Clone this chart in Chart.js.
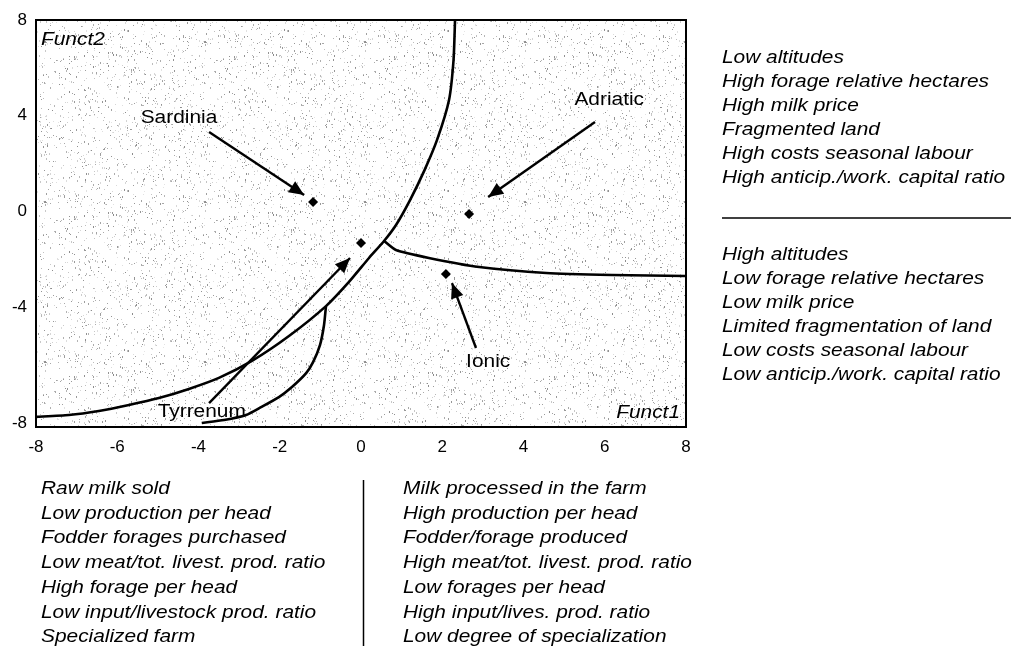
<!DOCTYPE html>
<html><head><meta charset="utf-8">
<script src="https://cdn.jsdelivr.net/npm/chart.js@4.4.1/dist/chart.umd.min.js"></script>
<style>html,body{margin:0;padding:0;background:#fff;overflow:hidden}#wrap{position:relative;width:1011px;height:646px}</style>
</head><body><div id="wrap"><canvas id="c" width="1011" height="646"></canvas></div>
<script>
// ---- data ----
const xTickValues = [-8, -6, -4, -2, 0, 2, 4, 6, 8];
const yTickValues = [8, 4, 0, -4, -8.85];
const yTickLabels = ['8', '4', '0', '-4', '-8'];

const groupNames = ['Sardinia', 'Tyrrenum', 'Adriatic', 'Ionic'];
const centroidX = [-1.18, 0.0, 2.66, 2.09];
const centroidY = [0.40, -1.31, -0.10, -2.61];

const arrowStartX = [-3.74, -3.74, 5.76, 2.83];
const arrowStartY = [3.32, -8.0, 3.74, -5.70];
const arrowEndX = [-1.40, -0.27, 3.13, 2.24];
const arrowEndY = [0.69, -1.94, 0.61, -2.99];

const labelX = [-4.48, -3.92, 6.11, 3.13];
const labelY = [3.91, -8.37, 4.66, -6.29];

const mainBoundaryX = [2.315, 2.278, 2.167, 1.872, 1.564, 1.207, 0.862, 0.567, 0.197, -0.296, -0.862, -1.773, -2.685, -3.498, -4.236, -4.975, -5.714, -6.453, -7.192, -8.03];
const mainBoundaryY = [8.00, 6.33, 4.66, 2.99, 1.73, 0.48, -0.56, -1.23, -1.94, -2.94, -3.95, -5.20, -6.24, -6.95, -7.41, -7.79, -8.08, -8.33, -8.50, -8.58];
const rightBoundaryX = [0.567, 0.86, 1.67, 2.91, 4.56, 6.18, 7.98];
const rightBoundaryY = [-1.23, -1.61, -1.94, -2.32, -2.57, -2.65, -2.69];
const arcX = [-0.862, -0.91, -1.01, -1.18, -1.35, -1.70, -2.02, -2.46, -2.83, -3.37, -3.92];
const arcY = [-3.95, -4.74, -5.58, -6.29, -6.75, -7.33, -7.75, -8.17, -8.50, -8.71, -8.83];

const axisTitleY = 'Funct2';
const axisTitleX = 'Funct1';

const rightTextTop = ['Low altitudes', 'High forage relative hectares', 'High milk price', 'Fragmented land', 'High costs seasonal labour', 'High anticip./work. capital ratio'];
const rightTextBottom = ['High altitudes', 'Low forage relative hectares', 'Low milk price', 'Limited fragmentation of land', 'Low costs seasonal labour', 'Low anticip./work. capital ratio'];
const bottomTextLeft = ['Raw milk sold', 'Low production per head', 'Fodder forages purchased', 'Low meat/tot. livest. prod. ratio', 'High forage per head', 'Low input/livestock prod. ratio', 'Specialized farm'];
const bottomTextRight = ['Milk processed in the farm', 'High production per head', 'Fodder/forage produced', 'High meat/tot. livest. prod. ratio', 'Low forages per head', 'High input/lives. prod. ratio', 'Low degree of specialization'];

// ---- helpers ----
const zip = (xs, ys) => xs.map((x, i) => ({x: x, y: ys[i]}));
const STRETCH = 1.16;
const FONT = '"Liberation Sans", Arial, sans-serif';
function sText(ctx, s, x, y, align, italic, size) {
  ctx.save();
  ctx.font = (italic ? 'italic ' : '') + size + 'px ' + FONT;
  ctx.textBaseline = 'middle';
  ctx.textAlign = align;
  ctx.fillStyle = '#000';
  ctx.translate(x, y);
  ctx.scale(STRETCH, 1);
  ctx.fillText(s, 0, 0);
  ctx.restore();
}

// stipple texture (decorative only)
function makePattern(ctx) {
  const t = document.createElement('canvas');
  t.width = 160; t.height = 160;
  const c = t.getContext('2d');
  c.fillStyle = '#ffffff';
  c.fillRect(0, 0, 160, 160);
  let s = 12345;
  const rnd = () => { s = (s * 1103515245 + 12345) % 2147483648; return s / 2147483648; };
  for (let i = 0; i < 1100; i++) {
    const x = Math.floor(rnd() * 160), y = Math.floor(rnd() * 160);
    const g = Math.floor(140 + rnd() * 90);
    c.fillStyle = 'rgb(' + g + ',' + g + ',' + g + ')';
    c.fillRect(x, y, 1, rnd() < 0.3 ? 2 : 1);
  }
  return ctx.createPattern(t, 'repeat');
}

const decor = {
  id: 'decor',
  beforeDatasetsDraw(chart) {
    const {ctx, chartArea: a} = chart;
    ctx.save();
    ctx.fillStyle = makePattern(ctx);
    ctx.fillRect(a.left, a.top, a.right - a.left, a.bottom - a.top);
    ctx.restore();
  },
  afterDatasetsDraw(chart) {
    const {ctx, chartArea: a, scales: {x, y}} = chart;
    ctx.save();
    for (let i = 0; i < arrowEndX.length; i++) {
      const x0 = x.getPixelForValue(arrowStartX[i]), y0 = y.getPixelForValue(arrowStartY[i]);
      const x1 = x.getPixelForValue(arrowEndX[i]), y1 = y.getPixelForValue(arrowEndY[i]);
      const ang = Math.atan2(y1 - y0, x1 - x0);
      const L = 15, W = 6.5;
      ctx.beginPath();
      ctx.moveTo(x1, y1);
      ctx.lineTo(x1 - L * Math.cos(ang) + W * Math.sin(ang), y1 - L * Math.sin(ang) - W * Math.cos(ang));
      ctx.lineTo(x1 - L * Math.cos(ang) - W * Math.sin(ang), y1 - L * Math.sin(ang) + W * Math.cos(ang));
      ctx.closePath();
      ctx.fillStyle = '#000';
      ctx.fill();
    }
    for (let i = 0; i < groupNames.length; i++) {
      sText(ctx, groupNames[i], x.getPixelForValue(labelX[i]), y.getPixelForValue(labelY[i]), 'center', false, 18);
    }
    sText(ctx, axisTitleY, a.left + 5, a.top + 20, 'left', true, 18);
    sText(ctx, axisTitleX, a.right - 6, a.bottom - 14, 'right', true, 18);
    ctx.strokeStyle = '#000';
    ctx.lineWidth = 2;
    ctx.strokeRect(a.left, a.top, a.right - a.left, a.bottom - a.top);
    ctx.restore();
  },
  afterDraw(chart) {
    const {ctx} = chart;
    ctx.save();
    const rx = 722, lh = 23.9;
    rightTextTop.forEach((s, i) => sText(ctx, s, rx, 58 + i * lh, 'left', true, 18));
    rightTextBottom.forEach((s, i) => sText(ctx, s, rx, 255 + i * lh, 'left', true, 18));
    ctx.strokeStyle = '#000';
    ctx.lineWidth = 1.5;
    ctx.beginPath(); ctx.moveTo(722, 218); ctx.lineTo(1011, 218); ctx.stroke();
    const bl = 24.7;
    bottomTextLeft.forEach((s, i) => sText(ctx, s, 41, 489 + i * bl, 'left', true, 18));
    bottomTextRight.forEach((s, i) => sText(ctx, s, 403, 489 + i * bl, 'left', true, 18));
    ctx.beginPath(); ctx.moveTo(363.5, 480); ctx.lineTo(363.5, 646); ctx.stroke();
    ctx.restore();
  }
};

const lineDs = (data) => ({data: data, showLine: true, borderColor: '#000', borderWidth: 2.6, pointRadius: 0, tension: 0.2, fill: false});

const datasets = [
  lineDs(zip(mainBoundaryX, mainBoundaryY)),
  lineDs(zip(rightBoundaryX, rightBoundaryY)),
  lineDs(zip(arcX, arcY)),
];
for (let i = 0; i < arrowStartX.length; i++) {
  const d = lineDs([{x: arrowStartX[i], y: arrowStartY[i]}, {x: arrowEndX[i], y: arrowEndY[i]}]);
  d.tension = 0; d.borderWidth = 2.4;
  datasets.push(d);
}
datasets.push({data: zip(centroidX, centroidY), showLine: false, pointStyle: 'rectRot', pointRadius: 5, backgroundColor: '#000', borderColor: '#000', borderWidth: 0});

new Chart(document.getElementById('c'), {
  type: 'scatter',
  data: {datasets: datasets},
  options: {
    responsive: false,
    animation: false,
    devicePixelRatio: 1,
    layout: {padding: {left: 0, top: 20, right: 325, bottom: 179}},
    plugins: {legend: {display: false}, tooltip: {enabled: false}},
    scales: {
      x: {
        type: 'linear', min: -8, max: 8,
        afterBuildTicks: (s) => { s.ticks = xTickValues.map(v => ({value: v})); },
        afterFit: (s) => { s.height = 40; },
        grid: {display: false, drawTicks: false},
        border: {display: false},
        ticks: {padding: 10, color: '#000', font: {size: 17, family: FONT}, callback: (v) => String(v)}
      },
      y: {
        type: 'linear', min: -9, max: 8,
        afterBuildTicks: (s) => { s.ticks = yTickValues.map(v => ({value: v})); },
        afterFit: (s) => { s.width = 36; },
        grid: {display: false, drawTicks: false},
        border: {display: false},
        ticks: {padding: 9, color: '#000', font: {size: 17, family: FONT}, callback: (v) => yTickLabels[yTickValues.indexOf(v)]}
      }
    }
  },
  plugins: [decor]
});
</script></body></html>
